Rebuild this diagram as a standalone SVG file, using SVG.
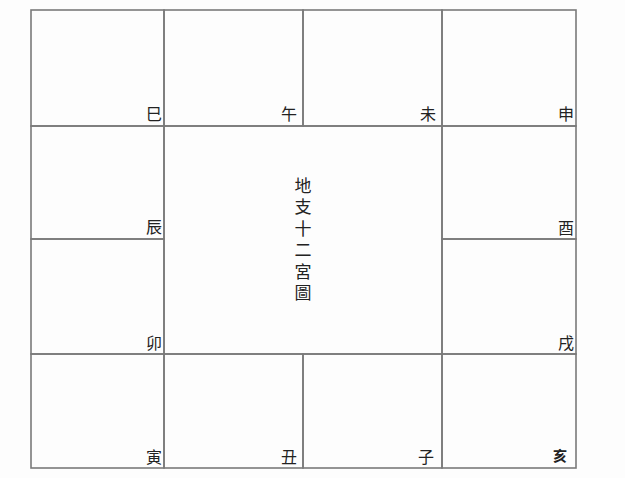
<svg xmlns="http://www.w3.org/2000/svg" width="625" height="478" viewBox="0 0 625 478">
<style>
.cell{fill:none;stroke:#7a7a7a;stroke-width:1.6}
.lbl{font-family:"Noto Sans CJK TC","Noto Sans CJK SC",sans-serif;font-size:16px;fill:#222;text-anchor:end}
.ctr{font-family:"Noto Sans CJK TC","Noto Sans CJK SC",sans-serif;font-size:17px;fill:#222;writing-mode:vertical-rl;letter-spacing:4.5px}
</style>
<rect width="625" height="478" fill="#fdfdfd"/>
<g id="si"><rect class="cell" x="31" y="10" width="133" height="116"/><text class="lbl" x="162" y="120">巳</text></g>
<g id="wu"><rect class="cell" x="164" y="10" width="139" height="116"/><text class="lbl" x="297" y="120">午</text></g>
<g id="wei"><rect class="cell" x="303" y="10" width="139" height="116"/><text class="lbl" x="436" y="120">未</text></g>
<g id="shen"><rect class="cell" x="442" y="10" width="134" height="116"/><text class="lbl" x="574" y="120">申</text></g>
<g id="chen"><rect class="cell" x="31" y="126" width="133" height="113"/><text class="lbl" x="162" y="233">辰</text></g>
<g id="you"><rect class="cell" x="442" y="126" width="134" height="113"/><text class="lbl" x="574" y="234">酉</text></g>
<g id="mao"><rect class="cell" x="31" y="239" width="133" height="115"/><text class="lbl" x="162" y="349">卯</text></g>
<g id="xu"><rect class="cell" x="442" y="239" width="134" height="115"/><text class="lbl" x="574" y="349">戌</text></g>
<g id="yin"><rect class="cell" x="31" y="354" width="133" height="114"/><text class="lbl" x="162" y="463">寅</text></g>
<g id="chou"><rect class="cell" x="164" y="354" width="139" height="114"/><text class="lbl" x="297" y="463">丑</text></g>
<g id="zi"><rect class="cell" x="303" y="354" width="139" height="114"/><text class="lbl" x="434" y="463">子</text></g>
<g id="hai"><rect class="cell" x="442" y="354" width="134" height="114"/><text class="lbl" x="567" y="461" style="font-size:14px;font-weight:bold">亥</text></g>
<g id="center"><rect class="cell" x="164" y="126" width="278" height="228"/>
<text class="ctr" x="303" y="177">地支十二宮圖</text></g>
<g id="connectors"></g>
</svg>
